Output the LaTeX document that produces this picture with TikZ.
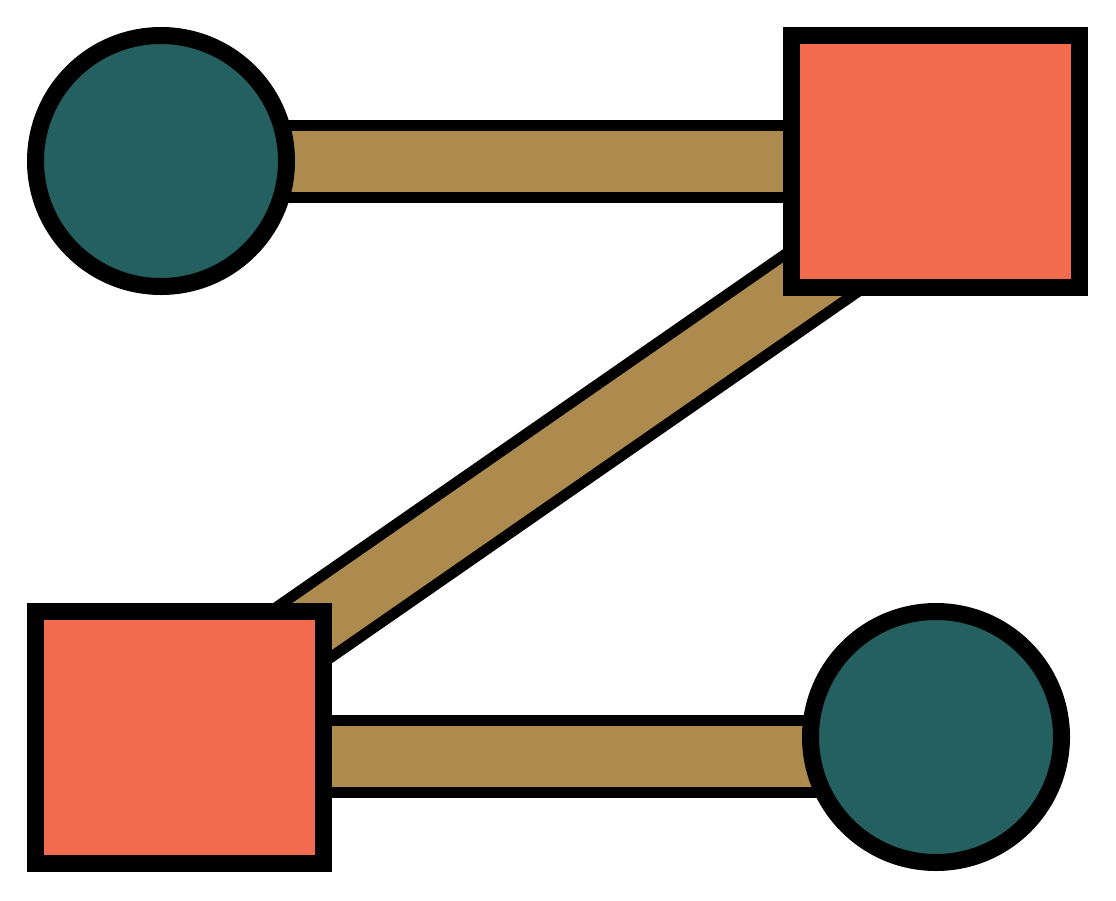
\documentclass[tikz,border=0pt]{standalone}
\usetikzlibrary{calc,backgrounds}
\definecolor{teal}{HTML}{246060}
\definecolor{coral}{HTML}{F26B4E}
\definecolor{tanbar}{HTML}{AD8B4F}
\tikzset{
  roundnode/.style={circle, draw=black, line width=17pt, fill=teal, minimum size=251pt, inner sep=0pt},
  boxnode/.style={rectangle, draw=black, line width=17pt, fill=coral, minimum width=288pt, minimum height=252pt, inner sep=0pt},
  bar/.style={draw=black, line width=11pt, double=tanbar, double distance=61pt, line cap=butt}
}
\begin{document}
\begin{tikzpicture}[x=1pt,y=-1pt]
\useasboundingbox (0,0) rectangle (1116,900);
\node[roundnode] (c1) at (161,161) {};
\node[boxnode] (r1) at (935.5,161.5) {};
\node[boxnode] (r2) at (179.5,737.5) {};
\node[roundnode] (c2) at (936,737) {};
\coordinate (b1) at ($(r2.center)+(0,18.5)$);
\coordinate (b2) at ($(c2.center)+(0,19)$);
\coordinate (d1) at ($(r2.center)+(0,-19)$);
\coordinate (d2) at ($(r1.center)+(0,32.4)$);
\begin{scope}[on background layer]
\draw[bar] (c1.center |- r1.center) -- (r1.center);
\draw[bar] (d1) -- (d2);
\draw[bar] (b1) -- (b2);
\end{scope}
\end{tikzpicture}
\end{document}
